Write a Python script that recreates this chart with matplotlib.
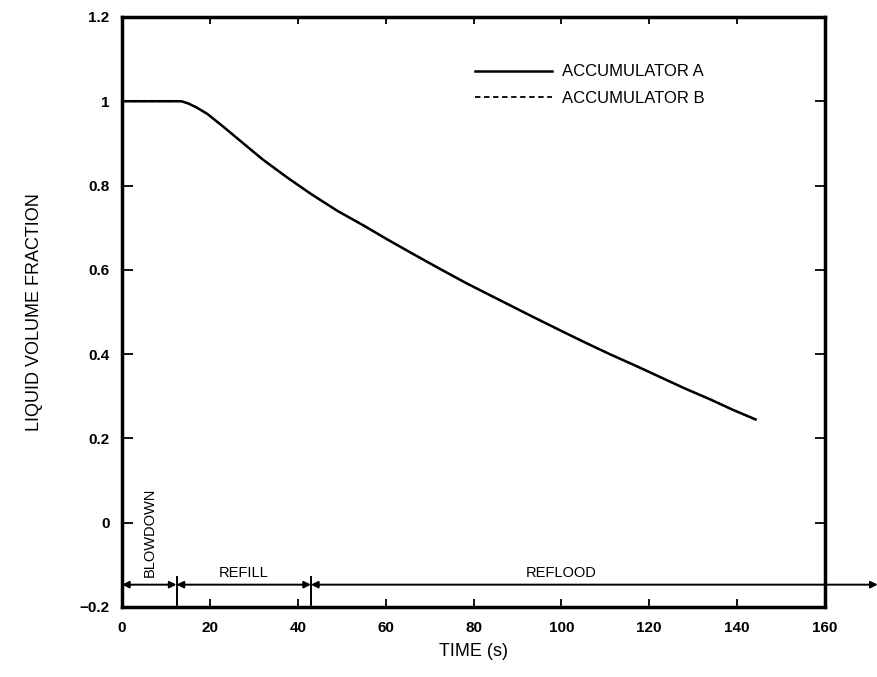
import matplotlib.pyplot as plt

plt.rcParams['font.family'] = ['Liberation Sans', 'DejaVu Sans']

# accumulator liquid volume fraction vs. time
time_a = [0, 13.5, 15, 17, 19.4, 23, 27.6, 32, 37.6, 43, 49, 55, 60.4, 66, 72.4,
          78.6, 86, 93.6, 99.8, 105.5, 111.2, 117, 122.6, 128, 134, 139, 144.2]
frac_a = [1.0, 1.0, 0.995, 0.985, 0.970, 0.940, 0.900, 0.862, 0.819, 0.780, 0.740,
          0.705, 0.672, 0.639, 0.602, 0.567, 0.528, 0.488, 0.456, 0.427, 0.399,
          0.372, 0.345, 0.319, 0.292, 0.268, 0.245]
time_b = time_a
frac_b = frac_a

# transient phases: (label, start, end)
phase_names = ['BLOWDOWN', 'REFILL', 'REFLOOD']
phase_start = [0, 12.4, 43.0]
phase_end = [12.4, 43.0, 172]

xticks = [0, 20, 40, 60, 80, 100, 120, 140, 160]
yticks = [-0.2, 0, 0.2, 0.4, 0.6, 0.8, 1.0, 1.2]
ytick_labels = ['\u22120.2', '0', '0.2', '0.4', '0.6', '0.8', '1', '1.2']

fig = plt.figure(figsize=(8.78, 6.77), dpi=100)
ax = fig.add_axes([0.139, 0.1034, 0.8006, 0.8716])

ax.plot(time_b, frac_b, color='black', lw=1.3, ls=(0, (3, 2)), label='ACCUMULATOR B', zorder=2)
ax.plot(time_a, frac_a, color='black', lw=1.8, label='ACCUMULATOR A', zorder=3)

ax.set_xlim(0, 160)
ax.set_ylim(-0.2, 1.2)
ax.set_xticks(xticks)
ax.set_yticks(yticks)
ax.set_yticklabels(ytick_labels)

for side in ax.spines.values():
    side.set_linewidth(2.5)

ax.tick_params(axis='both', which='both', labelsize=11, width=1.3)
ax.tick_params(axis='x', direction='in', length=6, pad=10, top=True)
ax.tick_params(axis='y', direction='in', length=8, pad=9, right=True)
# top and right ticks point outward
for t in ax.xaxis.get_major_ticks():
    t.tick2line.set_marker(3)
    t.tick2line.set_markersize(5)
for t in ax.yaxis.get_major_ticks():
    t.tick2line.set_marker(0)
    t.tick2line.set_markersize(7)
for lab in ax.get_xticklabels() + ax.get_yticklabels():
    lab.set_fontweight('bold')

ax.set_xlabel('TIME (s)', fontsize=13, labelpad=6)
ax.set_ylabel('LIQUID VOLUME FRACTION', fontsize=13, labelpad=26)

# phase arrows along the bottom
y_arrow = -0.147
for name, t0, t1 in zip(phase_names, phase_start, phase_end):
    ax.annotate('', xy=(t1, y_arrow), xytext=(t0, y_arrow),
                arrowprops=dict(arrowstyle='<|-|>', color='black', lw=1.4,
                                mutation_scale=10, shrinkA=0, shrinkB=0),
                annotation_clip=False)
for t in phase_start[1:]:
    ax.plot([t, t], [-0.2, -0.128], color='black', lw=1.4)

ax.text(6.2, -0.128, 'BLOWDOWN', rotation=90, ha='center', va='bottom', fontsize=10.5)
ax.text(27.6, -0.135, 'REFILL', ha='center', va='bottom', fontsize=10.5)
ax.text(100, -0.135, 'REFLOOD', ha='center', va='bottom', fontsize=10.5)

handles, labels = ax.get_legend_handles_labels()
ax.legend(handles[::-1], labels[::-1], loc='upper right', bbox_to_anchor=(0.85, 0.945),
          frameon=False, fontsize=12, handlelength=4.6, handletextpad=0.6,
          labelspacing=0.7)

fig.savefig('out.png', dpi=100)
